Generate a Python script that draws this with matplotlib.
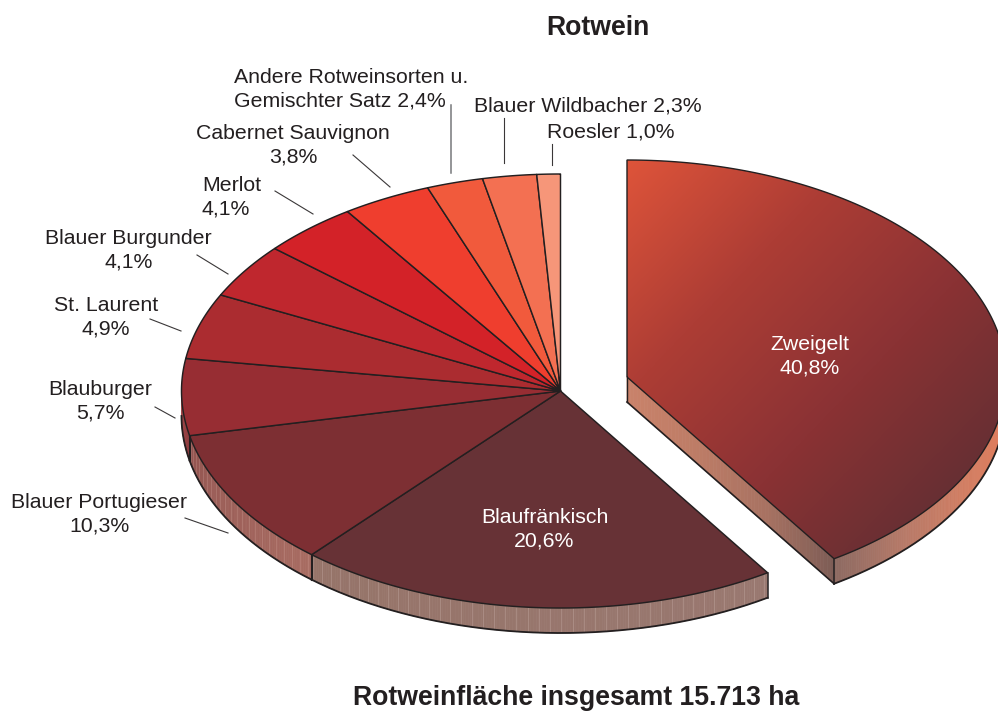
import matplotlib
matplotlib.use('Agg')
import matplotlib.pyplot as plt
import numpy as np
from matplotlib.collections import LineCollection
from matplotlib.colors import LinearSegmentedColormap
from matplotlib.patches import Polygon

plt.rcParams['font.family'] = ['Liberation Sans', 'DejaVu Sans']

# Anteile in Prozent, im Uhrzeigersinn ab 12 Uhr
sorten = ['Zweigelt', 'Blaufränkisch', 'Blauer Portugieser', 'Blauburger', 'St. Laurent',
          'Blauer Burgunder', 'Merlot', 'Cabernet Sauvignon', 'Andere Rotweinsorten',
          'Blauer Wildbacher', 'Roesler']
anteile = [40.8, 20.6, 10.3, 5.7, 4.9, 4.1, 4.1, 3.8, 2.4, 2.3, 1.0]
farben = ['#a33c34', '#673236', '#7d2f33', '#972d33', '#ab2c30', '#bf272e', '#d32228',
          '#ef3e2e', '#f15a3c', '#f37052', '#f69679']

# Geometrie in Pixeln
rx, ry = 379, 217
tiefe = 25
mitte = (560.5, 391)
mitte_ab = (627, 377)
dunkel = '#231f20'
textfarbe = '#231f20'
fs = 15.3
fs_fett = 19.2

grenzen = np.concatenate([[0], np.cumsum(anteile)]) * 3.6


def ell(c, winkel):
    w = np.radians(winkel)
    return c[0] + rx * np.sin(w), c[1] - ry * np.cos(w)


def sektor(c, w1, w2):
    t = np.linspace(w1, w2, 200)
    x, y = ell(c, t)
    return np.column_stack([np.r_[c[0], x], np.r_[c[1], y]])


def mantel(ax, c, w1, w2, cmap, streifen=None):
    t = np.arange(w1, w2 + 0.4, 0.4)
    t[-1] = min(t[-1], w2)
    for a, b in zip(t[:-1], t[1:]):
        x, y = ell(c, np.array([a, b]))
        farbe = cmap((a - w1) / max(w2 - w1, 1e-6))
        ax.add_patch(Polygon([(x[0], y[0]), (x[1], y[1]), (x[1], y[1] + tiefe), (x[0], y[0] + tiefe)],
                             closed=True, fc=farbe, ec=farbe, lw=0.5, zorder=2))
    if streifen:
        s = np.arange(w1 + 0.7, w2, 1.7)
        x, y = ell(c, s)
        seg = [[(a, b), (a, b + tiefe)] for a, b in zip(x, y)]
        ax.add_collection(LineCollection(seg, colors=streifen, linewidths=0.6, alpha=0.3, zorder=3))
    t = np.linspace(w1, w2, 200)
    x, y = ell(c, t)
    ax.plot(x, y + tiefe, color=dunkel, lw=1.3, zorder=5)


fig = plt.figure(figsize=(9.98, 7.13), dpi=100)
ax = fig.add_axes([0, 0, 1, 1])
ax.set_xlim(0, 998)
ax.set_ylim(713, 0)
ax.axis('off')

# Mantel der Hauptscheibe
einfach = lambda a, b: LinearSegmentedColormap.from_list('m', [a, b])
mantel(ax, mitte, grenzen[1], grenzen[2], einfach('#997870', '#967469'), '#d8c2bc')
mantel(ax, mitte, grenzen[2], grenzen[3], einfach('#a86c62', '#935450'), '#d8aaa0')
mantel(ax, mitte, grenzen[3], 270, einfach('#8e3d40', '#a5494b'))
for w in grenzen[2:4]:
    x, y = ell(mitte, w)
    ax.plot([x, x], [y, y + tiefe], color=dunkel, lw=1.5, zorder=6)
x, y = ell(mitte, grenzen[1])
ax.plot([x, x], [y, y + tiefe], color=dunkel, lw=1.1, zorder=6)

# Oberseite der Hauptscheibe
for i in range(1, len(anteile)):
    ax.add_patch(Polygon(sektor(mitte, grenzen[i], grenzen[i + 1]), closed=True, fc=farben[i],
                         ec=dunkel, lw=1.05, joinstyle='round', zorder=7))

# Abgerücktes Segment: Schnittfläche, Mantel, Oberseite mit Verlauf
xe, ye = ell(mitte_ab, grenzen[1])
schnitt = LinearSegmentedColormap.from_list('s', ['#c9826a', '#bd7c66', '#a87262', '#7c5c55'])
n = 60
for i in range(n):
    f1, f2 = i / n, (i + 1) / n
    xa, xb = mitte_ab[0] + (xe - mitte_ab[0]) * f1, mitte_ab[0] + (xe - mitte_ab[0]) * f2
    ya, yb = mitte_ab[1] + (ye - mitte_ab[1]) * f1, mitte_ab[1] + (ye - mitte_ab[1]) * f2
    ax.add_patch(Polygon([(xa, ya), (xb, yb), (xb, yb + tiefe), (xa, ya + tiefe)], closed=True,
                         fc=schnitt(f1), ec=schnitt(f1), lw=0.5, zorder=2))
ax.plot([mitte_ab[0], xe], [mitte_ab[1] + tiefe, ye + tiefe], color=dunkel, lw=1.2, zorder=5)
ax.plot([mitte_ab[0], mitte_ab[0]], [mitte_ab[1], mitte_ab[1] + tiefe], color=dunkel, lw=1.0, zorder=5)

bogen = LinearSegmentedColormap.from_list('b', ['#d8785c', '#dd7d5e', '#d07d62', '#b87a68', '#8d6a62'])
mantel(ax, mitte_ab, 90, grenzen[1], bogen)
ax.plot([xe, xe], [ye, ye + tiefe], color=dunkel, lw=1.1, zorder=6)

# Verlauf von links oben nach rechts unten
verlauf = LinearSegmentedColormap.from_list('v', ['#de543a', '#ad3d35', '#8a3234', '#632f33'])
gx, gy = np.meshgrid(np.linspace(627, 1006, 400), np.linspace(160, 560, 400))
g = np.clip(((gx - 627) * 0.72 + (gy - 160) * 0.69) / 480, 0, 1)
bild = ax.imshow(g, cmap=verlauf, extent=[627, 1006, 560, 160], aspect='auto', vmin=0, vmax=1, zorder=7)
form = Polygon(sektor(mitte_ab, grenzen[0], grenzen[1]), closed=True, fc='none', ec='none',
               transform=ax.transData)
ax.add_patch(form)
bild.set_clip_path(form)
ax.add_patch(Polygon(sektor(mitte_ab, grenzen[0], grenzen[1]), closed=True, fc='none', ec=dunkel,
                     lw=1.0, zorder=8))
ax.set_xlim(0, 998)
ax.set_ylim(713, 0)

# Hinweislinien
linien = [((185, 518), (228, 533)), ((155, 407), (175, 418)), ((150, 319), (181, 331)),
          ((197, 255), (228, 274)), ((275, 191), (313, 214)), ((353, 155), (390, 187)),
          ((504, 118), (504, 163)), ((552, 144), (552, 165))]
for a, b in linien:
    ax.plot([a[0], b[0]], [a[1], b[1]], color='#3a3738', lw=0.8, zorder=4)
ax.plot([451, 451], [105, 173], color='#77787b', lw=1.1, zorder=4)

# Beschriftung
abstand = 1.29
beschriftung = [
    ('Blauer Portugieser\n10,3%', 99.5, 514, 'center'),
    ('Blauburger\n5,7%', 100, 401, 'center'),
    ('St. Laurent\n4,9%', 106, 317, 'center'),
    ('Blauer Burgunder\n4,1%', 128.5, 250, 'center'),
    ('Merlot\n4,1%', 202, 197, 'left'),
    ('Cabernet Sauvignon\n3,8%', 293, 145, 'center'),
    ('Andere Rotweinsorten u.\nGemischter Satz 2,4%', 234, 89.5, 'left'),
]
for text, x, y, ha in beschriftung:
    ax.text(x, y, text, fontsize=fs, color=textfarbe, ha=ha, va='center', linespacing=abstand, zorder=10)
ax.text(588, 106, 'Blauer Wildbacher 2,3%', fontsize=fs, color=textfarbe, ha='center', va='center', zorder=10)
ax.text(611, 132, 'Roesler 1,0%', fontsize=fs, color=textfarbe, ha='center', va='center', zorder=10)
ax.text(544.5, 529, 'Blaufränkisch\n20,6%', fontsize=fs, color='white', ha='center', va='center',
        linespacing=abstand, zorder=10)
ax.text(810, 356, 'Zweigelt\n40,8%', fontsize=fs, color='white', ha='center', va='center',
        linespacing=abstand, zorder=10)
ax.text(597.5, 28, 'Rotwein', fontsize=fs_fett, fontweight='bold', color=textfarbe, ha='center', va='center')
ax.text(576, 698, 'Rotweinfläche insgesamt 15.713 ha', fontsize=fs_fett, fontweight='bold', color=textfarbe,
        ha='center', va='center')

fig.savefig('out.png', dpi=100, facecolor='white')
